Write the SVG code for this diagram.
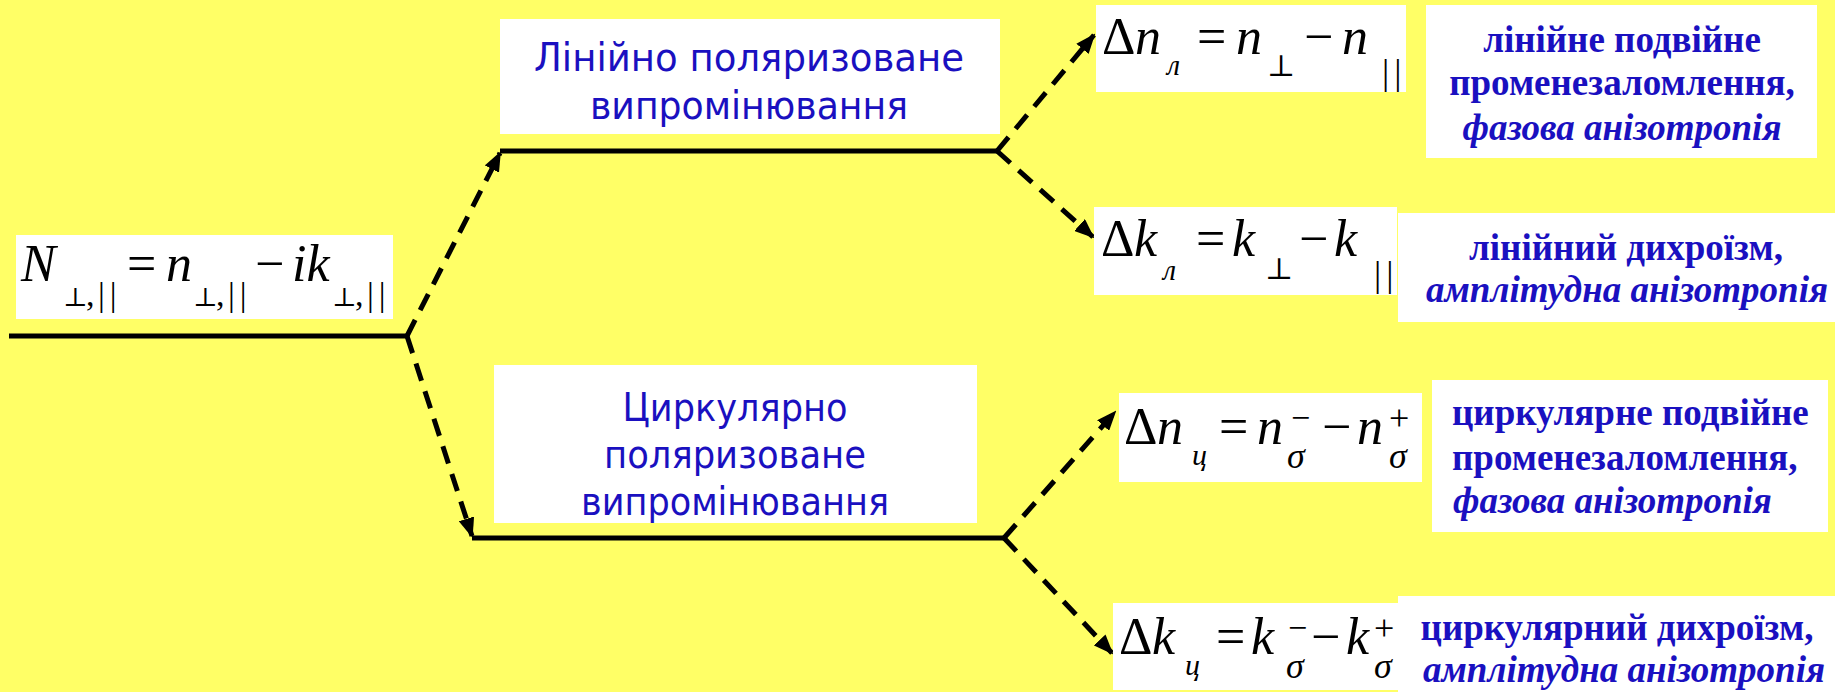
<svg xmlns="http://www.w3.org/2000/svg" width="1835" height="692" viewBox="0 0 1835 692">
<defs>
<style>
.box{fill:#ffffff;}
.sans{font-family:"DejaVu Sans","Liberation Sans",sans-serif;font-size:39px;fill:#1a10c0;text-anchor:middle;}
.lab{font-family:"Liberation Serif","Times New Roman",serif;font-size:37px;font-weight:bold;fill:#1a10c0;}
.lab .it{font-style:italic;}
.m{font-family:"Liberation Serif","DejaVu Serif",serif;fill:#000;}
.mi{font-style:italic;}
.perp{font-size:26px;}
.sub{font-size:34px;}
.bars{letter-spacing:5px;}
.solid{stroke:#000;stroke-width:5;fill:none;}
.dash{stroke:#000;stroke-width:5;fill:none;stroke-dasharray:18 11;}
</style>
<marker id="arr" markerUnits="userSpaceOnUse" markerWidth="20" markerHeight="16" viewBox="0 0 20 16" refX="18" refY="8" orient="auto">
<path d="M0,0 L20,8 L0,16 z" fill="#000"/>
</marker>
</defs>
<rect x="0" y="0" width="1835" height="692" fill="#ffff66"/>

<g id="connectors">
<line class="solid" x1="9" y1="336" x2="407" y2="336"/>
<line class="dash" x1="407" y1="336" x2="500" y2="153" marker-end="url(#arr)"/>
<line class="dash" x1="407" y1="336" x2="472" y2="536" marker-end="url(#arr)"/>
<line class="solid" x1="500" y1="151" x2="997" y2="151"/>
<line class="solid" x1="472" y1="538" x2="1004" y2="538"/>
<line class="dash" x1="997" y1="151" x2="1094" y2="35" marker-end="url(#arr)"/>
<line class="dash" x1="997" y1="151" x2="1093" y2="237" marker-end="url(#arr)"/>
<line class="dash" x1="1004" y1="538" x2="1115" y2="412" marker-end="url(#arr)"/>
<line class="dash" x1="1004" y1="538" x2="1112" y2="653" marker-end="url(#arr)"/>
</g>

<g id="node-N">
<rect class="box" x="16" y="235" width="377" height="84"/>
<text class="m" font-size="52"><tspan class="mi" x="21" y="281">N</tspan><tspan class="perp" x="63" y="306">⊥</tspan><tspan class="sub" x="86" y="306">,</tspan><tspan class="sub bars" x="98" y="306">||</tspan><tspan x="127" y="281">=</tspan><tspan class="mi" x="166" y="281">n</tspan><tspan class="perp" x="193" y="306">⊥</tspan><tspan class="sub" x="216" y="306">,</tspan><tspan class="sub bars" x="228" y="306">||</tspan><tspan x="255" y="281">−</tspan><tspan class="mi" x="292" y="281">ik</tspan><tspan class="perp" x="332" y="306">⊥</tspan><tspan class="sub" x="355" y="306">,</tspan><tspan class="sub bars" x="367" y="306">||</tspan></text>
</g>

<g id="node-linear">
<rect class="box" x="500" y="19" width="500" height="115"/>
<text class="sans" x="749" y="71" textLength="430" lengthAdjust="spacingAndGlyphs">Лінійно поляризоване</text>
<text class="sans" x="749" y="119" textLength="318" lengthAdjust="spacingAndGlyphs">випромінювання</text>
</g>

<g id="node-circular">
<rect class="box" x="494" y="365" width="483" height="158"/>
<text class="sans" x="735" y="421" textLength="225" lengthAdjust="spacingAndGlyphs">Циркулярно</text>
<text class="sans" x="735" y="468" textLength="262" lengthAdjust="spacingAndGlyphs">поляризоване</text>
<text class="sans" x="735" y="515" textLength="308" lengthAdjust="spacingAndGlyphs">випромінювання</text>
</g>

<g id="node-dn-lin">
<rect class="box" x="1096" y="5" width="310" height="87"/>
<text class="m" font-size="52"><tspan x="1102" y="54">Δ</tspan><tspan class="mi" x="1135" y="54">n</tspan><tspan class="mi" x="1167" y="75" font-size="30">л</tspan><tspan x="1197" y="54">=</tspan><tspan class="mi" x="1236" y="54">n</tspan><tspan x="1267" y="76" font-size="30">⊥</tspan><tspan x="1304" y="54">−</tspan><tspan class="mi" x="1342" y="54">n</tspan><tspan class="bars" x="1382" y="84" font-size="36">||</tspan></text>
</g>

<g id="node-dk-lin">
<rect class="box" x="1094" y="207" width="303" height="88"/>
<text class="m" font-size="52"><tspan x="1101" y="256">Δ</tspan><tspan class="mi" x="1134" y="256">k</tspan><tspan class="mi" x="1163" y="280" font-size="30">л</tspan><tspan x="1196" y="256">=</tspan><tspan class="mi" x="1232" y="256">k</tspan><tspan x="1265" y="279" font-size="30">⊥</tspan><tspan x="1299" y="256">−</tspan><tspan class="mi" x="1334" y="256">k</tspan><tspan class="bars" x="1374" y="286" font-size="36">||</tspan></text>
</g>

<g id="node-dn-circ">
<rect class="box" x="1119" y="393" width="303" height="89"/>
<text class="m" font-size="52"><tspan x="1124" y="444">Δ</tspan><tspan class="mi" x="1157" y="444">n</tspan><tspan class="mi" x="1192" y="465" font-size="30">ц</tspan><tspan x="1219" y="444">=</tspan><tspan class="mi" x="1257" y="444">n</tspan><tspan x="1291" y="429" font-size="34">−</tspan><tspan class="mi" x="1287" y="468" font-size="36">σ</tspan><tspan x="1322" y="444">−</tspan><tspan class="mi" x="1357" y="444">n</tspan><tspan x="1389" y="430" font-size="36">+</tspan><tspan class="mi" x="1389" y="468" font-size="36">σ</tspan></text>
</g>

<g id="node-dk-circ">
<rect class="box" x="1113" y="603" width="285" height="87"/>
<text class="m" font-size="52"><tspan x="1119" y="654">Δ</tspan><tspan class="mi" x="1152" y="654">k</tspan><tspan class="mi" x="1185" y="675" font-size="30">ц</tspan><tspan x="1216" y="654">=</tspan><tspan class="mi" x="1251" y="654">k</tspan><tspan x="1288" y="639" font-size="34">−</tspan><tspan class="mi" x="1286" y="678" font-size="36">σ</tspan><tspan x="1311" y="654">−</tspan><tspan class="mi" x="1346" y="654">k</tspan><tspan x="1374" y="640" font-size="36">+</tspan><tspan class="mi" x="1374" y="678" font-size="36">σ</tspan></text>
</g>

<g id="label-lin-biref">
<rect class="box" x="1426" y="5" width="391" height="153"/>
<text class="lab" text-anchor="middle"><tspan x="1622" y="52">лінійне подвійне</tspan><tspan x="1622" y="95">променезаломлення,</tspan><tspan class="it" x="1622" y="140">фазова анізотропія</tspan></text>
</g>

<g id="label-lin-dichro">
<rect class="box" x="1398" y="213" width="437" height="109"/>
<text class="lab" text-anchor="middle"><tspan x="1626" y="260">лінійний дихроїзм,</tspan><tspan class="it" x="1627" y="302">амплітудна анізотропія</tspan></text>
</g>

<g id="label-circ-biref">
<rect class="box" x="1432" y="380" width="396" height="152"/>
<text class="lab"><tspan x="1452" y="425">циркулярне подвійне</tspan><tspan x="1452" y="470">променезаломлення,</tspan><tspan class="it" x="1453" y="513">фазова анізотропія</tspan></text>
</g>

<g id="label-circ-dichro">
<rect class="box" x="1398" y="596" width="437" height="96"/>
<text class="lab" text-anchor="middle"><tspan x="1617" y="640">циркулярний дихроїзм,</tspan><tspan class="it" x="1624" y="682">амплітудна анізотропія</tspan></text>
</g>
</svg>
